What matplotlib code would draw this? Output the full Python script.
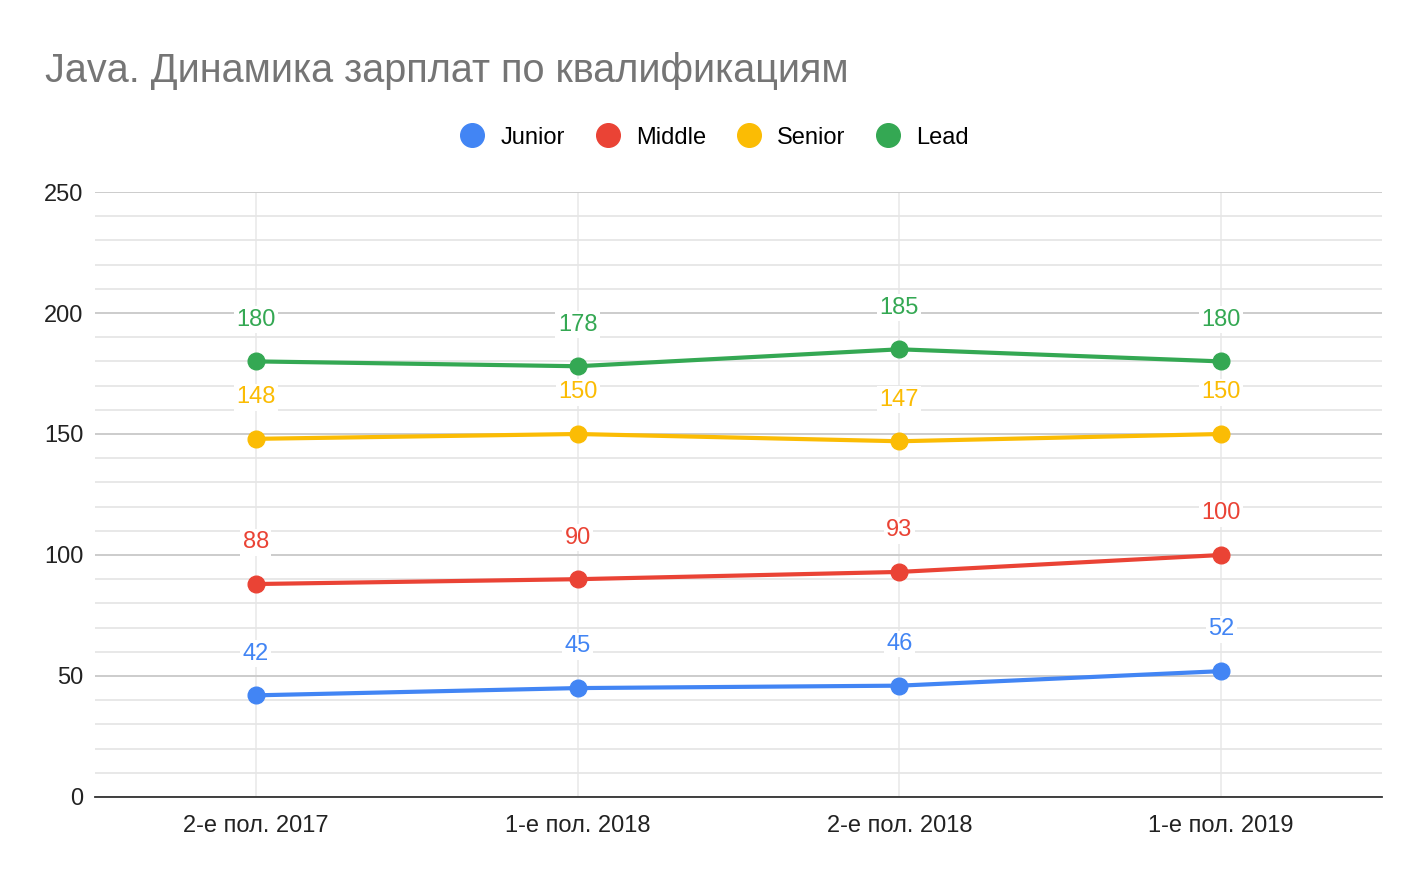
import numpy as np
import matplotlib
matplotlib.use("Agg")
import matplotlib.pyplot as plt
from matplotlib.ticker import MultipleLocator

plt.rcParams['font.family'] = ['Liberation Sans', 'DejaVu Sans']

# данные
periods = ["2-е пол. 2017", "1-е пол. 2018", "2-е пол. 2018", "1-е пол. 2019"]
junior = [42, 45, 46, 52]
middle = [88, 90, 93, 100]
senior = [148, 150, 147, 150]
lead = [180, 178, 185, 180]

series = [
    ("Junior", junior, "#4285f4"),
    ("Middle", middle, "#ea4335"),
    ("Senior", senior, "#fbbc04"),
    ("Lead", lead, "#34a853"),
]

fig = plt.figure(figsize=(14.28, 8.82), dpi=100)
ax = fig.add_axes([0.0665, 0.0964, 0.9013, 0.6859])

xs = np.arange(len(periods))
for name, vals, col in series:
    ax.plot(xs, vals, color=col, linewidth=3, marker="o", markersize=12,
            label=name, zorder=4, solid_capstyle="round")
    for x, v in zip(xs, vals):
        ax.annotate(str(v), (x, v), xytext=(0, 30), textcoords="offset points",
                    ha="center", va="center", fontsize=17, color=col, zorder=5,
                    bbox=dict(boxstyle="square,pad=0.1", fc="white", ec="none"))

ax.set_xlim(-0.5, 3.5)
ax.set_ylim(0, 250)
ax.set_xticks(xs)
ax.set_xticklabels(periods)
ax.yaxis.set_major_locator(MultipleLocator(50))
ax.yaxis.set_minor_locator(MultipleLocator(10))
ax.grid(True, which="major", axis="y", color="#cccccc", linewidth=1.4, zorder=1)
ax.grid(True, which="minor", axis="y", color="#e6e6e6", linewidth=1.3, zorder=1)
ax.grid(True, which="major", axis="x", color="#ececec", linewidth=1.3, zorder=1)
ax.tick_params(axis="both", which="both", length=0, labelsize=17, colors="#222222")
ax.tick_params(axis="y", pad=8.5)
ax.tick_params(axis="x", pad=13)
for s in ["top", "right", "left"]:
    ax.spines[s].set_visible(False)
ax.spines["bottom"].set_color("#333333")
ax.spines["bottom"].set_linewidth(1.3)
ax.spines["bottom"].set_zorder(3)

fig.text(0.0315, 0.9195, "Java. Динамика зарплат по квалификациям",
         fontsize=28.5, color="#757575", ha="left", va="center")

handles = [plt.Line2D([], [], linestyle="none", marker="o", markersize=17,
                      color=col) for _, _, col in series]
fig.legend(handles, [s[0] for s in series], loc="center",
           bbox_to_anchor=(0.5005, 0.844), ncol=4, frameon=False,
           fontsize=17, handlelength=1.0, handletextpad=0.7, columnspacing=1.3)

fig.savefig("out.png", dpi=100)
